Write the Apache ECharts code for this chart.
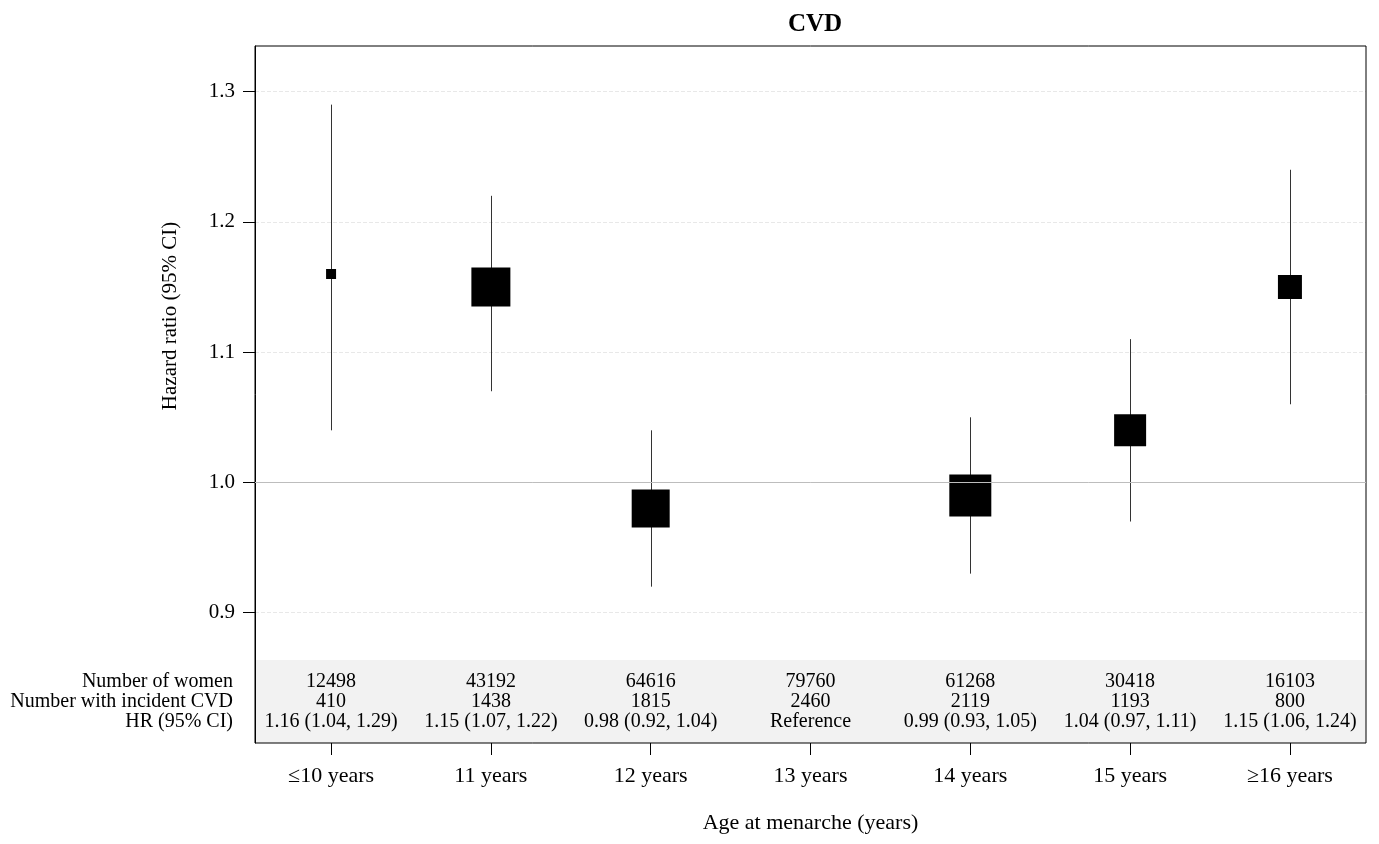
<!DOCTYPE html>
<html>
<head>
<meta charset="utf-8">
<script src="https://cdn.jsdelivr.net/npm/echarts@6/dist/echarts.min.js"></script>
<style>
html,body{margin:0;padding:0;background:#fff;}
#chart{width:1379px;height:844px;}
</style>
</head>
<body>
<div id="chart"></div>
<script>
// ---- data ----
const categories = ['\u226410 years', '11 years', '12 years', '13 years', '14 years', '15 years', '\u226516 years'];
const hr = [1.16, 1.15, 0.98, 1.00, 0.99, 1.04, 1.15];
const ciLow = [1.04, 1.07, 0.92, null, 0.93, 0.97, 1.06];
const ciHigh = [1.29, 1.22, 1.04, null, 1.05, 1.11, 1.24];
const nWomen = [12498, 43192, 64616, 79760, 61268, 30418, 16103];
const nCases = [410, 1438, 1815, 2460, 2119, 1193, 800];
const rowLabels = ['Number of women', 'Number with incident CVD', 'HR (95% CI)'];
const yTicks = [0.9, 1.0, 1.1, 1.2, 1.3];
const referenceHR = 1.0;

// ---- styles ----
const boxSizePx = [10, 39, 38, 0, 42, 32, 24];
const FONT = "'Liberation Serif', 'Times New Roman', serif";

const xPos = categories.map((c, i) => i + 1);
const hrText = hr.map((v, i) => ciLow[i] === null ? 'Reference'
  : v.toFixed(2) + ' (' + ciLow[i].toFixed(2) + ', ' + ciHigh[i].toFixed(2) + ')');

const ciData = [];
const pointData = [];
xPos.forEach((x, i) => {
  if (ciLow[i] !== null) {
    ciData.push([x, ciLow[i], ciHigh[i]]);
    pointData.push({ value: [x, hr[i]], symbolSize: boxSizePx[i] });
  }
});

const tableRows = [nWomen.map(String), nCases.map(String), hrText];
const tableData = [];
tableRows.forEach((row, r) => {
  row.forEach((t, i) => tableData.push([xPos[i], r, t]));
});

const xMin = 0.524, xMax = 7.476;

const chart = echarts.init(document.getElementById('chart'), null, { renderer: 'canvas' });
chart.setOption({
  backgroundColor: '#fff',
  animation: false,
  title: {
    text: 'CVD', left: 810, top: 7, textAlign: 'center',
    textStyle: { fontFamily: FONT, fontWeight: 'bold', fontSize: 25, color: '#000' }
  },
  graphic: [{
    type: 'text', x: 170, y: 316, rotation: Math.PI / 2,
    style: { text: 'Hazard ratio (95% CI)', font: '21px ' + FONT, fill: '#000', align: 'center', verticalAlign: 'middle' }
  }],
  grid: [
    { left: 255, right: 13, top: 46, bottom: 101, show: true, z: 1, borderColor: '#000', borderWidth: 1, backgroundColor: 'transparent' },
    { left: 255, right: 13, top: 660, bottom: 101, show: true, z: 0, borderWidth: 0, backgroundColor: '#f2f2f2' }
  ],
  xAxis: [
    { type: 'value', gridIndex: 0, min: xMin, max: xMax, show: false },
    {
      type: 'value', gridIndex: 1, min: xMin, max: xMax, position: 'bottom',
      axisLine: { show: false, onZero: false },
      axisTick: { show: true, customValues: xPos, length: 12, lineStyle: { color: '#000', width: 1 } },
      axisLabel: { customValues: xPos, formatter: v => categories[Math.round(v) - 1], fontFamily: FONT, fontSize: 22, color: '#000', margin: 22 },
      splitLine: { show: false },
      name: 'Age at menarche (years)', nameLocation: 'middle', nameGap: 69,
      nameTextStyle: { fontFamily: FONT, fontSize: 22, color: '#000' }
    }
  ],
  yAxis: [
    {
      type: 'value', gridIndex: 0, min: 0.8, max: 1.335, interval: 0.1,
      axisLine: { show: true, onZero: false, lineStyle: { color: '#000' } },
      axisTick: { show: true, customValues: yTicks, length: 12, lineStyle: { color: '#000' } },
      axisLabel: { customValues: yTicks, formatter: v => v.toFixed(1), fontFamily: FONT, fontSize: 21, color: '#000', margin: 20 },
      splitLine: { show: true, lineStyle: { color: '#e8e8e8', type: 'dashed', width: 1 } }
    },
    {
      type: 'value', gridIndex: 1, min: -1.1, max: 3.065, inverse: true,
      axisLine: { show: false, onZero: false }, axisTick: { show: false },
      axisLabel: { customValues: [0, 1, 2], formatter: v => rowLabels[Math.round(v)], fontFamily: FONT, fontSize: 20, color: '#000', margin: 22 },
      splitLine: { show: false }
    }
  ],
  series: [
    {
      type: 'custom', xAxisIndex: 0, yAxisIndex: 0, z: 3,
      data: ciData,
      renderItem: (params, api) => {
        const p1 = api.coord([api.value(0), api.value(1)]);
        const p2 = api.coord([api.value(0), api.value(2)]);
        return { type: 'line', shape: { x1: Math.round(p1[0]) + 0.5, y1: p1[1], x2: Math.round(p2[0]) + 0.5, y2: p2[1] }, style: { stroke: '#333', lineWidth: 1 } };
      }
    },
    {
      type: 'scatter', xAxisIndex: 0, yAxisIndex: 0, z: 4,
      symbol: 'rect', data: pointData,
      itemStyle: { color: '#000', opacity: 1 },
      markLine: {
        silent: true, symbol: 'none', label: { show: false },
        lineStyle: { color: '#bdbdbd', type: 'solid', width: 1 },
        data: [{ yAxis: referenceHR }]
      }
    },
    {
      type: 'custom', xAxisIndex: 1, yAxisIndex: 1, z: 5,
      data: tableData,
      encode: { x: 0, y: 1 },
      renderItem: (params, api) => {
        const p = api.coord([api.value(0), api.value(1)]);
        return {
          type: 'text', x: p[0], y: p[1],
          style: { text: tableData[params.dataIndex][2], font: '20px ' + FONT, fill: '#000', align: 'center', verticalAlign: 'middle' }
        };
      }
    }
  ]
});
</script>
</body>
</html>
